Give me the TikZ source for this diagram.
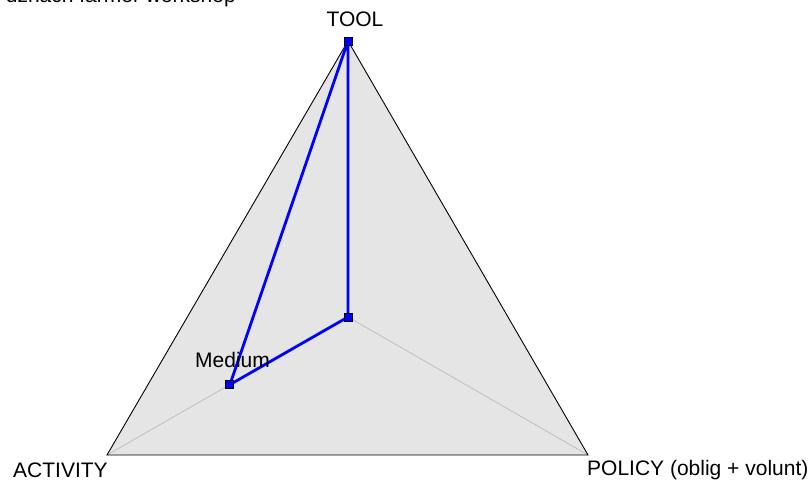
\documentclass[tikz,border=0pt]{standalone}
\usepackage{fontspec}
\setmainfont{Liberation Sans}
\usetikzlibrary{calc}
\begin{document}
\begin{tikzpicture}[x=1pt,y=-1pt,
  lbl/.style={font=\fontsize{21}{23}\selectfont, inner sep=0pt},
  spoke/.style={draw=black!25, line width=0.8pt},
  series/.style={draw=blue, line width=2.8pt, line join=round},
  mk/.style={draw=black, fill=blue, line width=0.9pt, minimum size=8pt, inner sep=0pt, rectangle}]
\useasboundingbox (0,0) rectangle (812,481);
\clip (0,0) rectangle (812,481);
\coordinate (T) at (348,41);
\coordinate (A) at (107,455);
\coordinate (P) at (588,455);
\coordinate (C) at (348,317);
\fill[black!10] (T) -- (A) -- (P) -- cycle;
\draw[spoke] (C) -- (A);
\draw[spoke] (C) -- (P);
\draw[black, line width=0.9pt] (T) -- (A) -- (P) -- cycle;
\coordinate (M) at ($(C)!0.49!(A)$);
\draw[series] (T) -- (C) -- (M) -- cycle;
\node[mk] (mt) at (T) {};
\node[mk] (mc) at (C) {};
\node[mk] (ma) at (M) {};
\node[lbl, anchor=base west] (med) at (195,367) {Medium};
\node[lbl, anchor=base] (tool) at (355,27) {TOOL};
\node[lbl, anchor=base west] (act) at (13,477) {ACTIVITY};
\node[lbl, anchor=base west] (pol) at (587,475) {POLICY (oblig + volunt)};
\node[lbl, anchor=base east] (title) at (236,3) {dzhach farmer workshop};
\end{tikzpicture}
\end{document}
